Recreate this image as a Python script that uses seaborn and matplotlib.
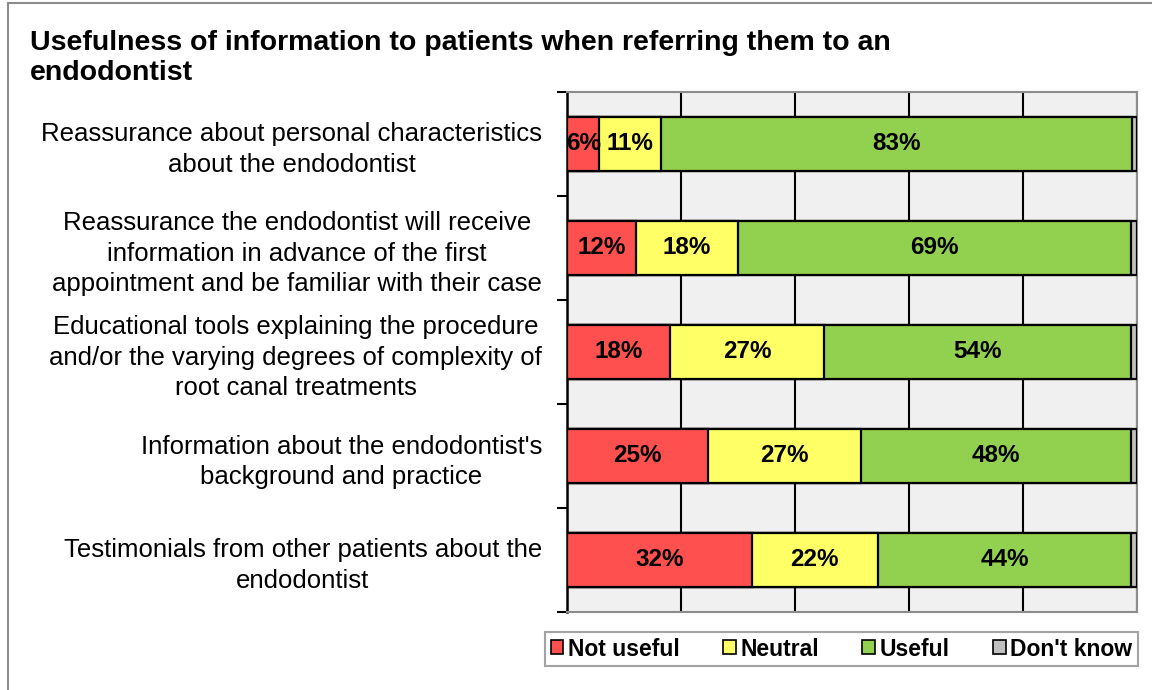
import pandas as pd
import matplotlib.pyplot as plt
import seaborn as sns
from matplotlib.patches import Patch, Rectangle

# -----------------------------
# Data
# -----------------------------
categories = [
    "Reassurance about personal characteristics\nabout the endodontist",
    "Reassurance the endodontist will receive\ninformation in advance of the first\nappointment and be familiar with their case",
    "Educational tools explaining the procedure\nand/or the varying degrees of complexity of\nroot canal treatments",
    "Information about the endodontist's\nbackground and practice",
    "Testimonials from other patients about the\nendodontist",
]
not_useful = [5.7, 12.1, 18.1, 24.7, 32.4]
neutral = [10.8, 17.9, 27.0, 26.8, 22.1]
useful = [82.6, 69.0, 53.9, 47.5, 44.5]
dont_know = [0.9, 1.0, 1.0, 1.0, 1.0]

series_names = ["Not useful", "Neutral", "Useful", "Don't know"]
series_colors = ["#FF5050", "#FFFF66", "#92D050", "#C0C0C0"]

df = pd.DataFrame({
    "category": categories,
    "Not useful": not_useful,
    "Neutral": neutral,
    "Useful": useful,
    "Don't know": dont_know,
})
cum = df[series_names].cumsum(axis=1)

# -----------------------------
# Plot
# -----------------------------
sns.set_theme(style="white")
plt.rcParams['font.family'] = ['Liberation Sans', 'DejaVu Sans']
plt.rcParams['text.color'] = 'black'
plt.rcParams['ytick.color'] = 'black'
plt.rcParams['ytick.labelcolor'] = 'black'

fig = plt.figure(figsize=(11.52, 6.9), dpi=100)
ax = fig.add_axes([567 / 1152, 1 - 612 / 690, 570 / 1152, 520 / 690])
ax.set_facecolor("#F0F0F0")

# stacked bars: draw cumulative totals from the longest down
for name, color in reversed(list(zip(series_names, series_colors))):
    plot_df = pd.DataFrame({"category": df["category"], "value": cum[name]})
    sns.barplot(data=plot_df, x="value", y="category", orient="h", color=color,
                saturation=1, width=0.52, edgecolor="black", linewidth=1.6,
                ax=ax, zorder=3)

# value labels
for i in range(len(df)):
    for name in ["Not useful", "Neutral", "Useful"]:
        v = df.loc[i, name]
        center = cum.loc[i, name] - v / 2
        ax.text(center, i, f"{round(v):d}%", ha="center", va="center",
                fontsize=17.5, fontweight="bold", color="black", zorder=5)

ax.set_xlim(0, 100)
ax.set_ylim(len(df) - 0.5, -0.5)
ax.set_xticks([0, 20, 40, 60, 80, 100])
ax.set_xticklabels([])
ax.tick_params(axis="x", length=0)
ax.grid(axis="x", color="black", linewidth=1.5, zorder=0)
ax.set_axisbelow(True)
ax.set_xlabel("")
ax.set_ylabel("")

ax.set_yticks(range(len(df)))
ax.set_yticklabels(categories, fontsize=18.5, multialignment="center",
                   linespacing=1.32)
ax.set_yticks([i - 0.5 for i in range(len(df) + 1)], minor=True)
ax.tick_params(axis="y", which="major", length=0, pad=18)
ax.tick_params(axis="y", which="minor", length=7, width=1.5, color="black",
               direction="out", left=True)

for side in ["top", "right", "bottom"]:
    ax.spines[side].set_color("#8C8C8C")
    ax.spines[side].set_linewidth(1.5)
ax.spines["left"].set_color("black")
ax.spines["left"].set_linewidth(1.8)

# title
fig.text(30 / 1152, 1 - 30 / 690,
         "Usefulness of information to patients when referring them to an\nendodontist",
         ha="left", va="top", fontsize=20.5, fontweight="bold", linespacing=1.22)

# legend
handles = [Patch(facecolor=c, edgecolor="black", linewidth=1.2, label=n)
           for n, c in zip(series_names, series_colors)]
leg = fig.legend(handles=handles, loc="center",
                 bbox_to_anchor=(841.5 / 1152, 1 - 649 / 690), ncol=4,
                 frameon=True, fancybox=False, edgecolor="#8C8C8C",
                 prop={"size": 16.5, "weight": "bold"},
                 handlelength=0.55, handleheight=0.55, handletextpad=0.2,
                 columnspacing=1.9, borderpad=0.25, borderaxespad=0)
leg.get_frame().set_linewidth(1.5)

# outer frame
fig.patches.append(Rectangle((8 / 1152, -0.1), 1.2, 0.1 + 1 - 3 / 690,
                             transform=fig.transFigure, fill=False,
                             edgecolor="#8C8C8C", linewidth=1.5))

plt.savefig("out.png", dpi=100)
